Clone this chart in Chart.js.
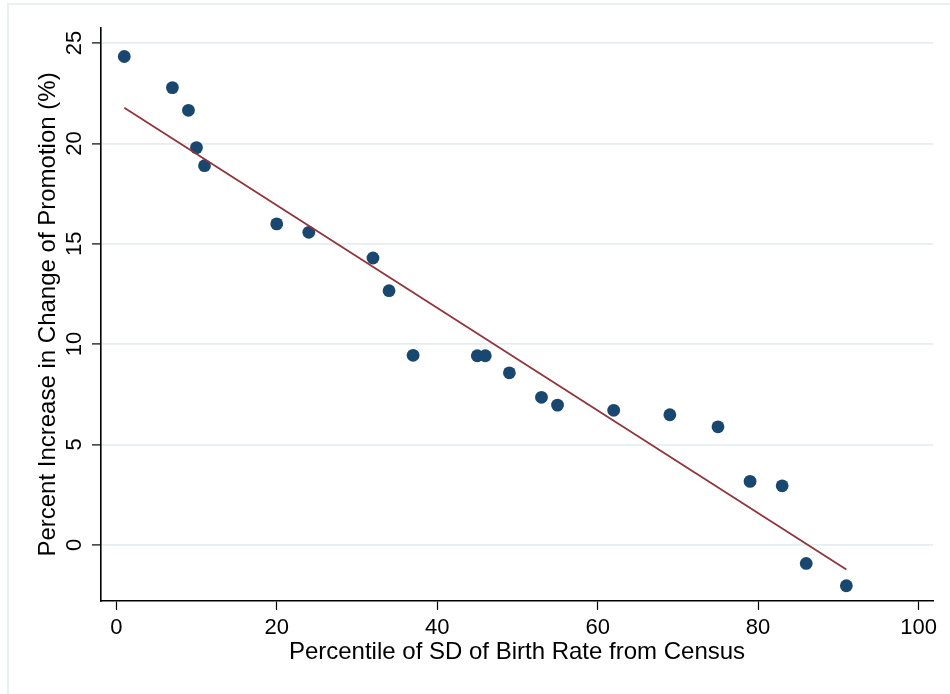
<!DOCTYPE html>
<html>
<head>
<meta charset="utf-8">
<script src="https://cdn.jsdelivr.net/npm/chart.js@4/dist/chart.umd.min.js"></script>
<style>
    html, body { margin: 0; padding: 0; background: #fff; }
    #wrap { position: relative; width: 950px; height: 694px; }
    #frame {
        position: absolute; left: 7px; top: 3px; right: 0; bottom: 0;
        border-top: 2px solid #eaf0f2; border-left: 2px solid #eaf0f2;
    }
    canvas { position: absolute; left: 0; top: 0; }
</style>
</head>
<body>
<div id="wrap">
    <div id="frame"></div>
    <canvas id="chartPromotion" width="950" height="694"></canvas>
</div>
<script>
// percentile of SD of birth rate (x) and percent increase in chance of promotion (y)
var percentis = [1, 7, 9, 10, 11, 20, 24, 32, 34, 37, 45, 46, 49, 53, 55, 62, 69, 75, 79, 83, 86, 91];
var aumentos = [24.33, 22.78, 21.65, 19.79, 18.89, 15.99, 15.57, 14.29, 12.66, 9.44, 9.42, 9.42,
    8.57, 7.35, 6.96, 6.70, 6.48, 5.88, 3.16, 2.94, -0.93, -2.04];

// fitted line at both ends
var ajusteX = [1, 91];
var ajusteY = [21.78, -1.23];

var ticksX = [0, 20, 40, 60, 80, 100];
var ticksY = [0, 5, 10, 15, 20, 25];

var corPonto = '#1a476f';
var corLinha = '#90353b';
var corGrade = '#e6eef1';

function gerarGrafico() {
    var fonte = '"Liberation Sans", Arial, Helvetica, sans-serif';
    Chart.defaults.font.family = fonte;
    Chart.defaults.color = '#000';

    var pontos = percentis.map(function (x, i) { return { x: x, y: aumentos[i] }; });
    var linha = ajusteX.map(function (x, i) { return { x: x, y: ajusteY[i] }; });

    const config = {
        type: 'scatter',
        data: {
            datasets: [{
                label: 'Fitted values',
                data: linha,
                showLine: true,
                borderColor: corLinha,
                borderWidth: 1.8,
                pointRadius: 0,
                fill: false
            }, {
                label: 'Percent increase',
                data: pontos,
                backgroundColor: corPonto,
                borderWidth: 0,
                pointRadius: 6.4
            }]
        },
        options: {
            responsive: false,
            animation: false,
            layout: { padding: { left: 0, top: 28, right: 17, bottom: 0 } },
            plugins: { legend: { display: false }, tooltip: { enabled: false } },
            scales: {
                x: {
                    type: 'linear',
                    min: -1.9,
                    max: 101.8,
                    afterBuildTicks: function (scale) {
                        scale.ticks = ticksX.map(function (v) { return { value: v }; });
                    },
                    afterFit: function (scale) { scale.height = 93; },
                    grid: {
                        drawOnChartArea: false,
                        drawTicks: true,
                        tickLength: 9,
                        tickColor: '#000',
                        tickWidth: 1.2
                    },
                    border: { display: true, color: '#000', width: 1.6 },
                    ticks: {
                        autoSkip: false,
                        maxRotation: 0,
                        padding: 5,
                        font: { size: 22 },
                        color: '#000'
                    },
                    title: {
                        display: true,
                        text: 'Percentile of SD of Birth Rate from Census',
                        font: { size: 24 },
                        color: '#000',
                        padding: { top: 0, bottom: 27 }
                    }
                },
                y: {
                    type: 'linear',
                    min: -2.8,
                    max: 25.75,
                    afterBuildTicks: function (scale) {
                        scale.ticks = ticksY.map(function (v) { return { value: v }; });
                    },
                    afterFit: function (scale) { scale.width = 101; },
                    grid: {
                        color: corGrade,
                        lineWidth: 1.8,
                        drawTicks: true,
                        tickLength: 9,
                        tickColor: '#000',
                        tickWidth: 1.2
                    },
                    border: { display: true, color: '#000', width: 1.6 },
                    ticks: {
                        autoSkip: false,
                        minRotation: 90,
                        maxRotation: 90,
                        crossAlign: 'center',
                        padding: 5,
                        font: { size: 22 },
                        color: '#000'
                    },
                    title: {
                        display: true,
                        text: 'Percent Increase in Change of Promotion (%)',
                        font: { size: 24 },
                        color: '#000',
                        padding: { top: 33.5, bottom: 0 }
                    }
                }
            }
        }
    };

    const chartPromotion = new Chart(
        document.getElementById('chartPromotion'),
        config
    );
}

gerarGrafico();
</script>
</body>
</html>
